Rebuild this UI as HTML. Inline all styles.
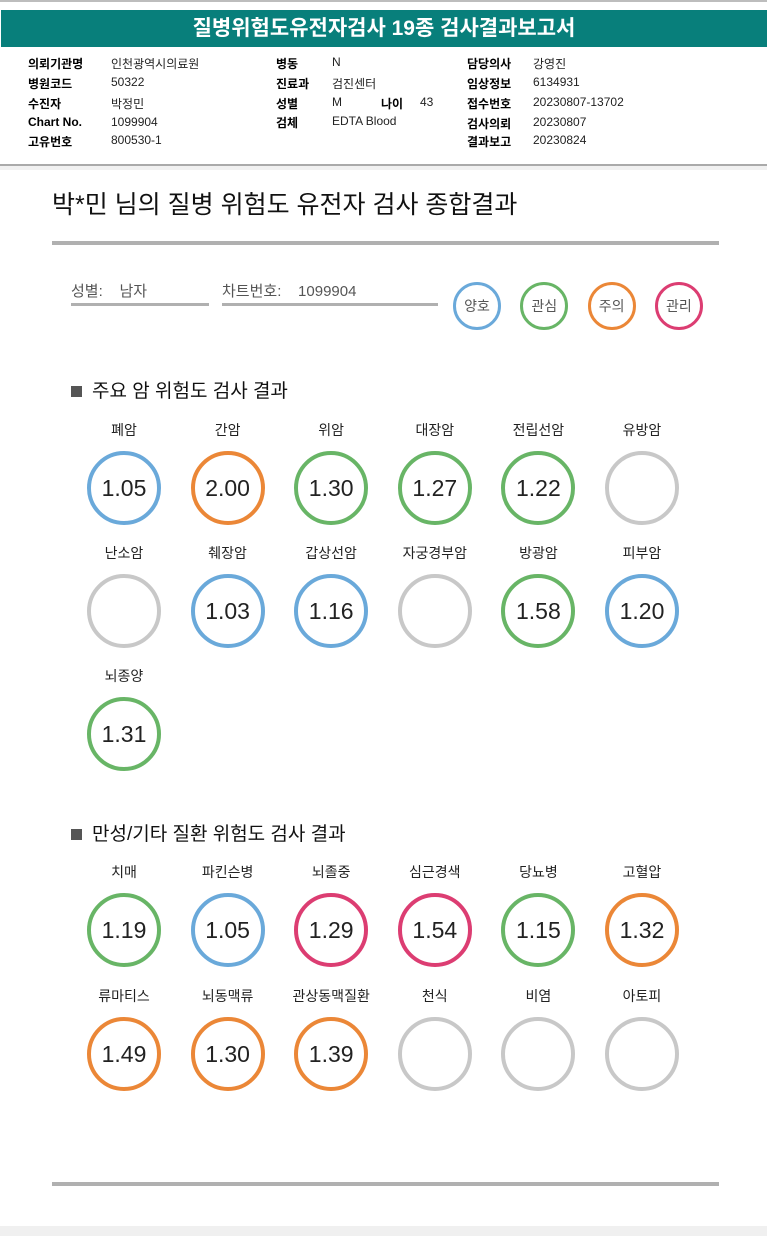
<!DOCTYPE html>
<html><head><meta charset="utf-8">
<style>
*{margin:0;padding:0;box-sizing:border-box}
body{width:767px;height:1236px;position:relative;background:#fff;font-family:"Liberation Sans","Noto Sans CJK KR",sans-serif;color:#222;overflow:hidden}
.a{position:absolute;white-space:nowrap}
.lb{font-weight:bold;font-size:12px;color:#000}
.vl{font-size:12px;color:#222}
.c{position:absolute;border-radius:50%;display:flex;align-items:center;justify-content:center}
</style></head><body>
<div class="a" style="left:0;top:0;width:767px;height:2px;background:#bdbdbd"></div>
<div class="a" style="left:1px;top:10px;width:766px;height:37px;background:#087f7b;color:#fff;font-size:21px;font-weight:bold;text-align:center;line-height:37px">질병위험도유전자검사 19종 검사결과보고서</div>

<div>
<div class="a lb" style="left:28px;top:55px">의뢰기관명</div><div class="a vl" style="left:111px;top:55px">인천광역시의료원</div>
<div class="a lb" style="left:28px;top:75px">병원코드</div><div class="a vl" style="left:111px;top:75px">50322</div>
<div class="a lb" style="left:28px;top:95px">수진자</div><div class="a vl" style="left:111px;top:95px">박정민</div>
<div class="a lb" style="left:28px;top:115px">Chart No.</div><div class="a vl" style="left:111px;top:115px">1099904</div>
<div class="a lb" style="left:28px;top:133px">고유번호</div><div class="a vl" style="left:111px;top:133px">800530-1</div>
<div class="a lb" style="left:276px;top:55px">병동</div><div class="a vl" style="left:332px;top:55px">N</div>
<div class="a lb" style="left:276px;top:75px">진료과</div><div class="a vl" style="left:332px;top:75px">검진센터</div>
<div class="a lb" style="left:276px;top:95px">성별</div><div class="a vl" style="left:332px;top:95px">M</div>
<div class="a lb" style="left:381px;top:95px">나이</div><div class="a vl" style="left:420px;top:95px">43</div>
<div class="a lb" style="left:276px;top:114px">검체</div><div class="a vl" style="left:332px;top:114px">EDTA Blood</div>
<div class="a lb" style="left:467px;top:55px">담당의사</div><div class="a vl" style="left:533px;top:55px">강영진</div>
<div class="a lb" style="left:467px;top:75px">임상정보</div><div class="a vl" style="left:533px;top:75px">6134931</div>
<div class="a lb" style="left:467px;top:95px">접수번호</div><div class="a vl" style="left:533px;top:95px">20230807-13702</div>
<div class="a lb" style="left:467px;top:115px">검사의뢰</div><div class="a vl" style="left:533px;top:115px">20230807</div>
<div class="a lb" style="left:467px;top:133px">결과보고</div><div class="a vl" style="left:533px;top:133px">20230824</div>
</div>
<div class="a" style="left:0;top:164px;width:767px;height:2px;background:#aaa"></div>
<div class="a" style="left:0;top:166px;width:767px;height:4px;background:#f1f1f1"></div>

<div class="a" style="left:52px;top:185px;font-size:25px;color:#111">박*민 님의 질병 위험도 유전자 검사 종합결과</div>
<div class="a" style="left:52px;top:241px;width:667px;height:4px;background:#b0b0b0"></div>

<div class="a" style="left:71px;top:280px;font-size:15px;color:#555">성별: &nbsp;&nbsp;&nbsp;남자</div>
<div class="a" style="left:71px;top:303px;width:138px;height:3px;background:#b0b0b0"></div>
<div class="a" style="left:222px;top:280px;font-size:15px;color:#555">차트번호: &nbsp;&nbsp;&nbsp;1099904</div>
<div class="a" style="left:222px;top:303px;width:216px;height:3px;background:#b0b0b0"></div>

<div id="legend"></div>

<div class="a" style="left:71px;top:376px;font-size:19px;color:#111"><span style="display:inline-block;width:11px;height:11px;background:#555;margin-right:10px"></span>주요 암 위험도 검사 결과</div>
<div class="a" style="left:71px;top:819px;font-size:19px;color:#111"><span style="display:inline-block;width:11px;height:11px;background:#555;margin-right:10px"></span>만성/기타 질환 위험도 검사 결과</div>
<div id="grid"></div>

<div class="a" style="left:52px;top:1182px;width:667px;height:4px;background:#b0b0b0"></div>
<div class="a" style="left:0;top:1226px;width:767px;height:10px;background:#f0f0f0"></div>

<script>
const levelNames=["양호","관심","주의","관리"];
const levelColors={"양호":"#6aa9da","관심":"#68b566","주의":"#eb8737","관리":"#dc3d72","없음":"#c8c8c8"};
const cancerNames=["폐암","간암","위암","대장암","전립선암","유방암","난소암","췌장암","갑상선암","자궁경부암","방광암","피부암","뇌종양"];
const cancerValues=[1.05,2.00,1.30,1.27,1.22,null,null,1.03,1.16,null,1.58,1.20,1.31];
const cancerLevels=["양호","주의","관심","관심","관심","없음","없음","양호","양호","없음","관심","양호","관심"];
const chronicNames=["치매","파킨슨병","뇌졸중","심근경색","당뇨병","고혈압","류마티스","뇌동맥류","관상동맥질환","천식","비염","아토피"];
const chronicValues=[1.19,1.05,1.29,1.54,1.15,1.32,1.49,1.30,1.39,null,null,null];
const chronicLevels=["관심","양호","관리","관리","관심","주의","주의","주의","주의","없음","없음","없음"];

const legend=document.getElementById('legend');
levelNames.forEach((n,i)=>{
  const d=document.createElement('div');
  d.className='c';
  
  
  const cx=477+i*67.3;
  d.style.cssText=`left:${cx-24}px;top:282px;width:48px;height:48px;border:3px solid ${levelColors[n]};font-size:14px;color:#555`;
  d.textContent=n;
  legend.appendChild(d);
});

const grid=document.getElementById('grid');
function drawSection(names,values,levels,rowLabelY){
  names.forEach((n,i)=>{
    const col=i%6,row=Math.floor(i/6);
    const cx=124+col*103.6;
    const ly=rowLabelY[row];
    const l=document.createElement('div');
    l.className='a';
    
    
    l.style.cssText=`left:${cx-60}px;width:120px;text-align:center;top:${ly}px;font-size:14px;color:#222`;
    l.textContent=n;
    grid.appendChild(l);
    const c=document.createElement('div');
    c.className='c';
    
    
    c.style.cssText=`left:${cx-37}px;top:${ly+31}px;width:74px;height:74px;border:4px solid ${levelColors[levels[i]]};font-size:23px;color:#222`;
    c.textContent=values[i]==null?'':values[i].toFixed(2);
    grid.appendChild(c);
  });
}
drawSection(cancerNames,cancerValues,cancerLevels,[420,543,666]);
drawSection(chronicNames,chronicValues,chronicLevels,[862,986]);
</script>
</body></html>
